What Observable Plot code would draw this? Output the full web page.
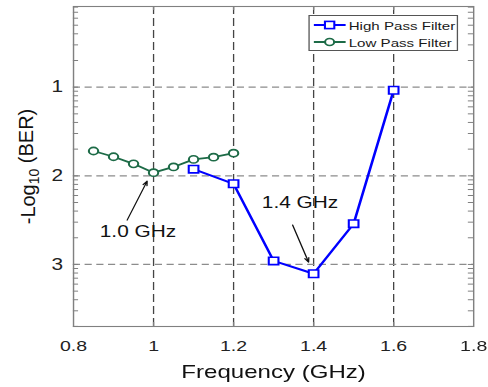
<!DOCTYPE html>
<html>
<head>
<meta charset="utf-8">
<script src="https://cdn.jsdelivr.net/npm/d3@7"></script>
<script src="https://cdn.jsdelivr.net/npm/@observablehq/plot@0.6"></script>
<style>
  html, body { margin: 0; padding: 0; background: #fff; }
  /* the figure is drawn narrow and widened, like the published figure */
  #wrap { position: relative; width: 375px; height: 387px; transform: scaleX(1.30133); transform-origin: 0 0;
          font-family: "Liberation Sans", Arial, sans-serif; }
  .legend { position: absolute; left: 236.7px; top: 15px; width: 115.3px; height: 36px; box-sizing: border-box;
            border: 1px solid #555; background: #fff; padding-top: 0.5px; }
  .legend .row { display: flex; align-items: center; height: 17px; font-size: 11.6px; color: #1a1a1a; white-space: nowrap; }
  .legend svg { margin-left: 3.6px; margin-right: 2.1px; flex: none; }
</style>
</head>
<body>
<div id="wrap"></div>
<script>
// Measured -log10(BER) against carrier frequency
const lowFreq = [0.85, 0.9, 0.95, 1.0, 1.05, 1.1, 1.15, 1.2];
const lowBer  = [1.72, 1.785, 1.865, 1.965, 1.90, 1.815, 1.79, 1.745];
const highFreq = [1.1, 1.2, 1.3, 1.4, 1.5, 1.6];
const highBer  = [1.925, 2.09, 2.96, 3.105, 2.54, 1.035];

const xTicks = [0.8, 1, 1.2, 1.4, 1.6, 1.8];
const xGrid = [1, 1.2, 1.4, 1.6];
const yTicks = [1, 2, 3];

const seriesNames = ["High Pass Filter", "Low Pass Filter"];
const seriesColors = ["#0000ff", "#1d6b47"];
const seriesSymbols = ["square", "circle"];

const noteLabels = ["1.0 GHz", "1.4 GHz"];
const noteText = [[0.961, 2.634], [1.366, 2.307]];
const noteFrom = [[0.934, 2.50], [1.3475, 2.555]];
const noteTo   = [[0.984, 2.06], [1.3875, 2.975]];

const xLabel = "Frequency (GHz)";
const yLabel = "-Log10 (BER)";

// layout
const W = 375, H = 387, S = 488 / W;
const mL = 56, mR = 11.5, mT = 6, mB = 61;
const plotW = W - mL - mR, plotH = H - mT - mB;
const yDomain = [0.09, 3.7];

// log-scale minor ticks of the BER axis, expressed in -log10 units
const minorTicks = [];
for (let n = 1; n <= 4; ++n)
  for (let k = 1; k <= 9; ++k) {
    const v = n - Math.log10(k);
    if (v >= yDomain[0] && v <= yDomain[1]) minorTicks.push(v);
  }

const low = lowFreq.map((f, i) => ({f, v: lowBer[i]}));
const high = highFreq.map((f, i) => ({f, v: highBer[i]}));
const notes = noteLabels.map((label, i) => ({
  label, tx: noteText[i][0], ty: noteText[i][1],
  x1: noteFrom[i][0], y1: noteFrom[i][1], x2: noteTo[i][0], y2: noteTo[i][1]
}));

const chart = Plot.plot({
  width: W, height: H,
  marginLeft: mL, marginRight: mR, marginTop: mT, marginBottom: mB,
  x: {domain: [0.8, 1.8]},
  y: {domain: yDomain, reverse: true},
  style: {background: "#fff", color: "#222", fontFamily: "'Liberation Sans', Arial, sans-serif", overflow: "visible"},
  marks: [
    Plot.gridX(xGrid, {stroke: "#444", strokeOpacity: 1, strokeWidth: 1, strokeDasharray: "8,4"}),
    Plot.gridY(yTicks, {stroke: "#8c8c8c", strokeOpacity: 1, strokeWidth: 1.2, strokeDasharray: "5.5,3.5"}),
    Plot.frame({stroke: "#808080", strokeWidth: 1.1}),
    // inward ticks on all sides
    Plot.tickY(minorTicks, {y: d => d, stroke: "#808080", insetRight: plotW - 4}),
    Plot.tickY(minorTicks, {y: d => d, stroke: "#808080", insetLeft: plotW - 4}),
    Plot.tickX(xGrid, {x: d => d, stroke: "#808080", insetTop: plotH - 4}),
    Plot.tickX(xGrid, {x: d => d, stroke: "#808080", insetBottom: plotH - 4}),
    Plot.axisX(xTicks, {tickSize: 0, tickPadding: 14, fontSize: 15, tickFormat: d => `${d}`, label: null, fill: "#222"}),
    Plot.axisY(yTicks, {tickSize: 0, tickPadding: 8, fontSize: 16, tickFormat: d => `${d}`, label: null, fill: "#222"}),
    Plot.text([xLabel], {frameAnchor: "bottom", textAnchor: "middle", lineAnchor: "bottom", dy: 51, fontSize: 18.5, fill: "#111"}),
    Plot.text([yLabel], {frameAnchor: "left", textAnchor: "middle", dx: -34.5, rotate: -90, fontSize: 20, fill: "#111"}),
    // series
    Plot.line(low, {x: "f", y: "v", stroke: seriesColors[1], strokeWidth: 1.8}),
    Plot.dot(low, {x: "f", y: "v", symbol: seriesSymbols[1], r: 3.6, stroke: seriesColors[1], fill: "#fff", strokeWidth: 1.6}),
    Plot.line(high, {x: "f", y: "v", stroke: seriesColors[0], strokeWidth: 2}),
    Plot.dot(high, {x: "f", y: "v", symbol: seriesSymbols[0], r: 4.2, stroke: seriesColors[0], fill: "#fff", strokeWidth: 1.6}),
    // annotations
    Plot.arrow(notes, {x1: "x1", y1: "y1", x2: "x2", y2: "y2", stroke: "#111", strokeWidth: 1, headLength: 7, headAngle: 40}),
    Plot.text(notes, {x: "tx", y: "ty", text: "label", fontSize: 16, fill: "#111"})
  ]
});

// y-axis title: subscript, and kept at its natural width inside the widened figure
d3.select(chart).selectAll("text")
  .filter(function () { return this.textContent === yLabel; })
  .each(function () {
    const t = d3.select(this);
    t.text(null);
    t.attr("text-anchor", "middle");
    t.attr("transform", (t.attr("transform") || "") + ` scale(1, ${1 / S})`);
    t.append("tspan").text("-Log");
    t.append("tspan").attr("dy", "0.3em").attr("font-size", "14px").text("10");
    t.append("tspan").attr("dy", "-0.3em").text("\u00a0(BER)");
  });

const wrap = document.getElementById("wrap");
wrap.appendChild(chart);

// legend
const legend = d3.select(wrap).append("div").attr("class", "legend");
seriesNames.forEach((name, i) => {
  const row = legend.append("div").attr("class", "row");
  const sw = row.append("svg").attr("width", 24.6).attr("height", 12);
  sw.append("line").attr("x1", 0).attr("x2", 24.6).attr("y1", 6).attr("y2", 6)
    .attr("stroke", seriesColors[i]).attr("stroke-width", i === 0 ? 2 : 1.8);
  if (seriesSymbols[i] === "square")
    sw.append("rect").attr("x", 12.3 - 3.6).attr("y", 6 - 3.6).attr("width", 7.2).attr("height", 7.2)
      .attr("fill", "#fff").attr("stroke", seriesColors[i]).attr("stroke-width", 1.6);
  else
    sw.append("circle").attr("cx", 12.3).attr("cy", 6).attr("r", 3.5)
      .attr("fill", "#fff").attr("stroke", seriesColors[i]).attr("stroke-width", 1.6);
  row.append("span").text(name);
});
</script>
</body>
</html>
